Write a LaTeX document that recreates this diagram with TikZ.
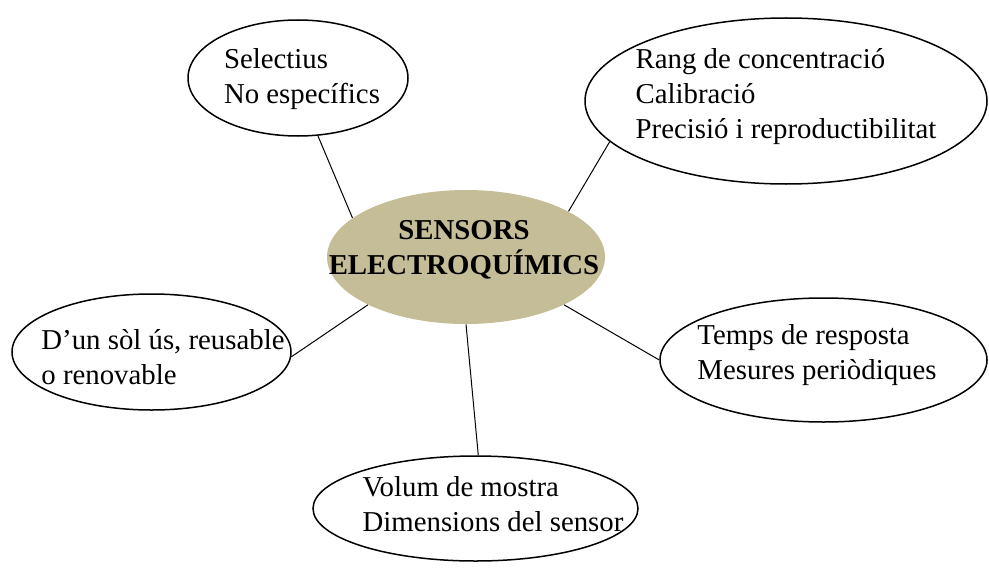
\documentclass[tikz,border=0pt]{standalone}
\usepackage{fontspec}
\setmainfont{Liberation Serif}
\usetikzlibrary{shapes.geometric,positioning}
\definecolor{tan}{RGB}{196,189,151}

\begin{document}
\begin{tikzpicture}[
        x=0.5pt, y=-0.5pt,
        bubble/.style={ellipse, draw=black, line width=0.75pt, inner sep=0pt},
        hub/.style={ellipse, fill=tan, inner sep=0pt, minimum width=139pt, minimum height=67pt},
        txt/.style={inner sep=0pt, align=left, font=\fontsize{14.4}{17.5}\selectfont},
        link/.style={line width=0.5pt, black}
    ]
    \useasboundingbox (0,0) rectangle (989,567);
    \node[hub] (hub) at (466,257) {};
    \node[bubble, minimum width=110pt, minimum height=58pt] (sel) at (298,78) {};
    \node[bubble, minimum width=201pt, minimum height=83pt] (rang) at (786,101) {};
    \node[bubble, minimum width=139.5pt, minimum height=58pt] (us) at (151.5,352) {};
    \node[bubble, minimum width=163.5pt, minimum height=62pt] (temps) at (823.5,360) {};
    \node[bubble, minimum width=162.5pt, minimum height=52.5pt] (volum) at (475.5,508.5) {};
    \node[txt, align=center, font=\fontsize{14.4}{17.5}\selectfont\bfseries] (hubText) at (464,250) {SENSORS\\ELECTROQUÍMICS};
    \node[txt] (selText) at (302,79) {Selectius\\No específics};
    \node[txt] (rangText) at (786,97) {Rang de concentració\\Calibració\\Precisió i reproductibilitat};
    \node[txt] (usText) at (163,357) {D’un sòl ús, reusable\\o renovable};
    \node[txt] (tempsText) at (817,355) {Temps de resposta\\Mesures periòdiques};
    \node[txt] (volumText) at (493,504) {Volum de mostra\\Dimensions del sensor};
    \draw[link] (sel.-71) -- (hub.161);
    \draw[link] (rang.-167) -- (hub.24);
    \draw[link] (us.-2) -- (hub.206);
    \draw[link] (temps.180) -- (hub.-26);
    \draw[link] (volum.87) -- (hub.-90);
\end{tikzpicture}
\end{document}
